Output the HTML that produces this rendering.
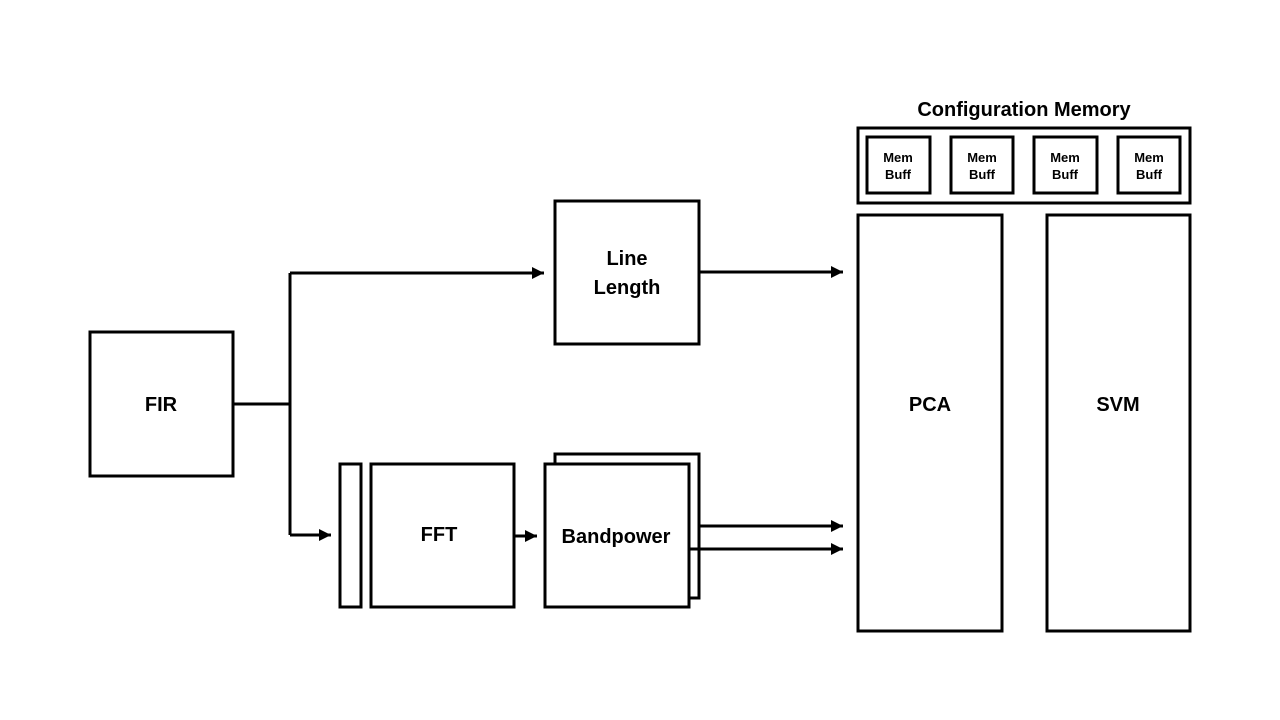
<!DOCTYPE html>
<html><head><style>body{margin:0;background:#fff}svg{display:block}text{font-family:"Liberation Sans",sans-serif;font-weight:bold;fill:#000;text-anchor:middle}</style></head>
<body>
<svg width="1280" height="720" viewBox="0 0 1280 720">
<defs><marker id="a" viewBox="0 0 10 10" refX="10" refY="5" markerWidth="4" markerHeight="4" orient="auto"><path d="M0,0L10,5L0,10z" fill="#000"/></marker></defs>
<g fill="none" stroke="#000" stroke-width="3">
<rect x="90" y="332" width="143" height="144"/>
<rect x="555" y="201" width="144" height="143"/>
<rect x="858" y="128" width="332" height="75"/>
<rect x="867" y="137" width="63" height="56"/>
<rect x="951" y="137" width="62" height="56"/>
<rect x="1034" y="137" width="63" height="56"/>
<rect x="1118" y="137" width="62" height="56"/>
<rect x="858" y="215" width="144" height="416"/>
<rect x="1047" y="215" width="143" height="416"/>
<rect x="340" y="464" width="21" height="143"/>
<rect x="371" y="464" width="143" height="143"/>
<rect x="555" y="454" width="144" height="144" fill="#fff"/>
<rect x="545" y="464" width="144" height="143" fill="#fff"/>
<path d="M233 404H290M290 273V535"/>
<path d="M290 273H544" marker-end="url(#a)"/>
<path d="M290 535H331" marker-end="url(#a)"/>
<path d="M514 536H537" marker-end="url(#a)"/>
<path d="M699 272H843" marker-end="url(#a)"/>
<path d="M699 526H843" marker-end="url(#a)"/>
<path d="M689 549H843" marker-end="url(#a)"/>
</g>
<g font-size="20">
<text x="161" y="411">FIR</text>
<text x="627" y="265">Line</text>
<text x="627" y="294">Length</text>
<text x="439" y="541">FFT</text>
<text x="616" y="543">Bandpower</text>
<text x="930" y="411">PCA</text>
<text x="1118" y="411">SVM</text>
<text x="1024" y="116">Configuration Memory</text>
</g>
<g font-size="13">
<text x="898" y="162">Mem</text><text x="898" y="179">Buff</text>
<text x="982" y="162">Mem</text><text x="982" y="179">Buff</text>
<text x="1065" y="162">Mem</text><text x="1065" y="179">Buff</text>
<text x="1149" y="162">Mem</text><text x="1149" y="179">Buff</text>
</g>
</svg>
</body></html>
